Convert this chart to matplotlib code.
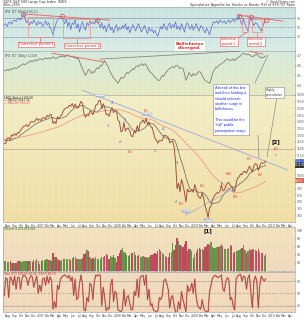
import numpy as np
import pandas as pd
import matplotlib
matplotlib.use("Agg")
import matplotlib.pyplot as plt
from matplotlib.colors import LinearSegmentedColormap
from matplotlib.patches import Rectangle
from matplotlib.lines import Line2D

OUTPUT_PATH = "out.png"
W, H = 304, 320

# weekly closes used only to warm up the moving averages (Sep 2005 - Jul 2006)
warmup_close = [1237, 1215, 1228, 1196, 1186, 1179, 1199, 1220, 1234, 1248, 1268, 1265, 1259,
                1267, 1268, 1248, 1285, 1287, 1261, 1283, 1264, 1266, 1287, 1289, 1287, 1281,
                1307, 1302, 1295, 1295, 1289, 1311, 1310, 1325, 1291, 1267, 1280, 1288, 1252,
                1251, 1245, 1270, 1265]

# weekly closes shown on the chart (14 Jul 2006 - 4 Dec 2009)
spx_close = [
    1236, 1240, 1278, 1279, 1266, 1302, 1295, 1311, 1299, 1319, 1314, 1336, 1349, 1365, 1368,
    1377, 1364, 1380, 1401, 1400, 1396, 1409, 1427, 1410, 1418,
    1409, 1430, 1430, 1422, 1448, 1438, 1455, 1451, 1387, 1402, 1386, 1436, 1421, 1443, 1452,
    1484, 1494, 1505, 1505, 1523, 1515, 1536, 1507, 1533, 1503, 1503, 1530, 1553, 1534, 1458,
    1433, 1453, 1445, 1479, 1474, 1454, 1484, 1525, 1527, 1557, 1561, 1501, 1535, 1509, 1453,
    1458, 1440, 1481, 1504, 1468, 1484, 1478,
    1411, 1401, 1325, 1330, 1396, 1331, 1349, 1353, 1331, 1294, 1288, 1330, 1316, 1370, 1332,
    1390, 1398, 1414, 1389, 1426, 1376, 1400, 1361, 1360, 1318, 1278, 1262, 1239, 1261, 1257,
    1260, 1296, 1298, 1292, 1283, 1242, 1252, 1255, 1213, 1099, 899, 940, 877, 968, 930,
    873, 800, 896, 876, 879, 887, 873,
    931, 890, 850, 832, 826, 869, 827, 770, 735, 683, 756, 768, 816, 842, 857, 869, 866, 877,
    929, 883, 887, 919, 940, 946, 921, 918, 896, 879, 940, 979, 987, 1010, 1005, 1026, 1029,
    1016, 1042, 1068, 1044, 1025, 1071, 1087, 1080, 1036, 1069, 1093, 1091, 1091, 1106]

rsi_values = [
    55, 58, 52, 60, 62, 57, 64, 66, 63, 68, 70, 66, 72, 79, 70, 60, 65, 55, 62, 58,
    66, 60, 54, 63, 58, 61, 52, 57, 64, 55, 60, 50, 45, 34, 48, 58, 66, 70, 72, 74,
    64, 58, 68, 52, 62, 45, 60, 56, 66, 48, 58, 40, 55, 62, 50, 44, 60, 54, 64, 58,
    62, 57, 64, 66, 58, 50, 60, 46, 54, 40, 52, 58, 44, 50, 38, 48, 56, 42, 50, 46,
    54, 48, 58, 44, 52, 38, 46, 56, 50, 42, 52, 58, 46, 40, 48, 54, 44, 36, 50, 42,
    46, 38, 44, 35, 31, 42, 52, 46, 58, 50, 44, 54, 60, 48, 56, 50, 62, 46, 52, 44,
    58, 50, 40, 54, 60, 52, 46, 56, 44, 50, 58, 48, 42, 54, 50, 44, 38, 48, 42, 34,
    46, 56, 62, 60, 64, 58, 66, 62, 60, 64, 58, 62, 66, 60, 64, 68, 62, 70, 66, 75,
    62, 56, 68, 58, 50, 42, 60, 72, 62, 54, 60, 58, 54, 48, 42, 52, 60, 66]

ratio_values = [
    0.55, 0.55, 0.56, 0.55, 0.57, 0.56, 0.57, 0.58, 0.57, 0.58, 0.59, 0.60, 0.61, 0.62, 0.61,
    0.62, 0.63, 0.64, 0.65, 0.64, 0.65, 0.66, 0.65, 0.66, 0.67, 0.67, 0.66, 0.67, 0.68, 0.67,
    0.68, 0.67, 0.68, 0.69, 0.68, 0.67, 0.68, 0.69, 0.70, 0.69, 0.70, 0.69, 0.70, 0.71, 0.70,
    0.69, 0.70, 0.68, 0.69, 0.67, 0.68, 0.64, 0.60, 0.57, 0.53, 0.50, 0.53, 0.56, 0.55, 0.52,
    0.54, 0.53, 0.56, 0.58, 0.57, 0.60, 0.60, 0.63, 0.65, 0.62, 0.60, 0.56, 0.53, 0.50, 0.47,
    0.46, 0.44, 0.42, 0.45, 0.48, 0.47, 0.48, 0.51, 0.53, 0.52, 0.54, 0.55, 0.57, 0.56, 0.59,
    0.60, 0.59, 0.61, 0.62, 0.60, 0.62, 0.61, 0.58, 0.55, 0.53, 0.52, 0.50, 0.48, 0.47, 0.45,
    0.45, 0.47, 0.50, 0.49, 0.52, 0.54, 0.56, 0.57, 0.58, 0.59, 0.58, 0.60, 0.60, 0.59, 0.57,
    0.58, 0.57, 0.52, 0.45, 0.48, 0.53, 0.51, 0.49, 0.52, 0.50, 0.51, 0.53, 0.54, 0.53, 0.50,
    0.47, 0.45, 0.44, 0.43, 0.42, 0.46, 0.52, 0.55, 0.58, 0.58, 0.60, 0.61, 0.62, 0.63, 0.64,
    0.66, 0.67, 0.66, 0.65, 0.66, 0.67, 0.65, 0.67, 0.68, 0.69, 0.70, 0.72, 0.73, 0.72, 0.71,
    0.72, 0.71, 0.70, 0.69, 0.70, 0.71, 0.72, 0.70, 0.69, 0.68, 0.68, 0.69, 0.70]

volume_bn = [
    2.6, 2.5, 2.3, 2.2, 2.4, 2.1, 1.9, 2.0, 2.1, 2.6, 2.5, 2.4, 2.3, 2.6, 2.4, 2.5, 2.4, 2.5,
    2.6, 2.2, 2.7, 2.6, 3.0, 2.4, 1.8,
    2.5, 2.7, 2.8, 2.7, 2.9, 2.8, 2.8, 2.6, 4.4, 3.4, 3.6, 2.9, 2.8, 2.6, 2.7, 3.0, 3.1, 3.0,
    2.9, 3.0, 2.8, 3.2, 3.4, 3.5, 3.1, 3.0, 2.9, 3.1, 3.2, 4.3, 4.6, 5.2, 5.0, 3.6, 3.0, 3.2,
    3.1, 3.4, 3.0, 2.9, 3.1, 3.6, 3.5, 3.8, 4.2, 3.9, 3.0, 3.8, 3.5, 3.9, 3.2, 2.2,
    3.8, 4.6, 5.2, 5.8, 4.8, 4.4, 3.9, 3.8, 3.9, 4.5, 4.6, 4.8, 3.9, 3.8, 3.9, 3.6, 3.5, 3.8,
    3.4, 3.5, 3.3, 3.4, 4.0, 4.1, 4.2, 4.5, 4.3, 5.0, 5.6, 5.0, 4.6, 4.3, 3.8, 3.6, 3.5, 4.5,
    4.8, 6.9, 5.3, 6.4, 8.2, 7.5, 6.6, 6.2, 6.0, 6.8, 7.4, 5.0, 5.6, 5.4, 5.1, 3.2,
    4.2, 4.8, 5.6, 5.8, 5.5, 5.4, 5.3, 5.9, 6.2, 6.8, 6.6, 7.2, 6.0, 5.8, 5.7, 6.1, 6.0, 6.3,
    6.8, 6.2, 5.6, 5.4, 5.6, 5.8, 6.4, 6.3, 4.4, 4.8, 5.0, 5.1, 5.3, 5.6, 5.8, 6.6, 5.2, 4.6,
    5.0, 5.6, 5.2, 5.4, 5.5, 5.2, 4.9, 5.6, 4.8, 4.6, 4.4, 3.8, 4.3]

stoch_values = [
    45, 88, 85, 40, 90, 86, 70, 92, 60, 88, 90, 60, 85, 95, 92, 88, 70, 85, 93, 90, 65, 80,
    92, 50, 70,
    55, 85, 88, 70, 92, 75, 90, 82, 12, 30, 15, 70, 60, 85, 90, 93, 95, 92, 88, 94, 80, 90,
    45, 85, 35, 40, 75, 95, 70, 10, 8, 40, 30, 75, 70, 35, 80, 95, 92, 96, 94, 20, 65, 40,
    8, 15, 12, 70, 85, 30, 55, 50,
    10, 8, 5, 12, 60, 20, 40, 45, 25, 10, 12, 55, 45, 85, 40, 90, 92, 94, 70, 95, 35, 60,
    20, 25, 10, 8, 5, 8, 40, 35, 45, 80, 85, 75, 60, 15, 40, 45, 20, 5, 3, 30, 12, 55, 35,
    20, 6, 70, 55, 60, 75, 50,
    85, 40, 20, 15, 12, 35, 15, 8, 6, 5, 55, 70, 88, 92, 94, 90, 88, 92, 95, 60, 55, 80, 88,
    85, 35, 40, 20, 10, 85, 92, 95, 96, 80, 92, 90, 60, 88, 95, 50, 15, 80, 92, 80, 15, 70,
    92, 85, 80, 86]

all_dates = pd.date_range("2005-09-16", periods=len(warmup_close) + len(spx_close), freq="W-FRI")
all_close = pd.Series(warmup_close + spx_close, index=all_dates, dtype=float)
ma50 = all_close.rolling(10).mean()
ma200 = all_close.rolling(40).mean()
dates = all_dates[len(warmup_close):]
close = all_close.loc[dates]

X0, X1 = pd.Timestamp("2006-07-08"), pd.Timestamp("2010-04-22")
T = pd.Timestamp


def fp(x, y):
    return x / W, 1 - y / H


def panel(top, bottom):
    return fig.add_axes([3 / W, 1 - bottom / H, 292 / W, (bottom - top) / H])


def shade(ax, top, bottom):
    cmap = LinearSegmentedColormap.from_list("bg", [top, bottom])
    ax.imshow(np.linspace(0, 1, 60).reshape(-1, 1), cmap=cmap, aspect="auto",
              extent=(0, 1, 0, 1), transform=ax.transAxes, zorder=0)


def style(ax, ylim, yticks, show_x=False):
    ax.set_xlim(X0, X1)
    ax.set_ylim(*ylim)
    ax.yaxis.tick_right()
    ax.set_yticks(yticks)
    ax.tick_params(axis="y", labelsize=2.2, length=1, width=0.3, pad=0.5, colors="#555555")
    ax.tick_params(axis="x", length=1, width=0.3)
    months = pd.date_range("2006-08-01", "2010-04-01", freq="MS")
    ax.set_xticks(months)
    if show_x:
        labels = [str(m.year) if m.month == 1 else m.strftime("%b") for m in months]
        ax.set_xticklabels(labels, fontsize=2.2, color="#444444")
        ax.tick_params(axis="x", pad=0.6)
    else:
        ax.set_xticklabels([])
    for s in ax.spines.values():
        s.set_color("#9a9a9a")
        s.set_linewidth(0.4)
    ax.grid(axis="x", color="#ffffff", lw=0.2, alpha=0.5)


fig = plt.figure(figsize=(W / 100, H / 100), dpi=100)

# ---- top: RSI of ratio
ax1 = panel(7, 51)
ax1.plot(dates, rsi_values, color="#5a6ad0", lw=0.5, zorder=3)
for lvl, ls in [(70, "-"), (50, "--"), (30, "-")]:
    ax1.axhline(lvl, color="#8c9cc4", lw=0.5, ls=ls, zorder=2)
shade(ax1, "#c9e3dd", "#d9ece6")
style(ax1, (-1, 94), [30, 50, 70])
for i in [13, 39, 63, 159, 167, 177]:
    ax1.plot(dates[i], rsi_values[i], "o", ms=3.2, mfc="none", mec="#e04848", mew=0.5, zorder=4)
ax1.plot([T("2006-10-13"), T("2007-11-27")], [79, 65.5], color="#e86060", lw=0.6, zorder=4)
ax1.plot([T("2009-07-26"), T("2010-02-24")], [76.5, 63.5], color="#e86060", lw=0.6, zorder=4)
for a, b, lo, hi in [("2006-11-03", "2007-03-01", 30, 72), ("2007-04-18", "2007-08-24", 26, 68),
                     ("2009-08-14", "2009-09-12", 41, 77), ("2009-10-01", "2009-11-17", 39, 68)]:
    ax1.add_patch(Rectangle((T(a), lo), T(b) - T(a), hi - lo, fill=False,
                            ec="#e89090", lw=0.5, zorder=4))
ax1.text(0.005, 0.97, "$SPX:$TLT  RSI(14) 66.12", transform=ax1.transAxes, fontsize=2,
         va="top", color="#444444")

box_red = dict(boxstyle="square,pad=0.25", fc="white", ec="#e05050", lw=0.4)
fig.text(*fp(36, 44.5), "Corrective period 1", fontsize=2.6, color="#d02020", ha="center",
         va="center", bbox=box_red, zorder=10)
fig.text(*fp(82, 45.5), "Corrective period 2", fontsize=2.6, color="#d02020", ha="center",
         va="center", bbox=box_red, zorder=10)
fig.text(*fp(229, 41.5), "Corrective\nperiod 1", fontsize=2.3, color="#d02020", ha="center",
         va="center", bbox=box_red, linespacing=1.1, zorder=10)
fig.text(*fp(256, 41.5), "Corrective\nperiod 2", fontsize=2.3, color="#d02020", ha="center",
         va="center", bbox=box_red, linespacing=1.1, zorder=10)
fig.text(*fp(190, 46), "Bullishness\ndiverged.", fontsize=3.2, color="#e02020", ha="center",
         va="center", weight="bold", linespacing=1.1,
         bbox=dict(boxstyle="square,pad=0.15", fc="white", ec="none"), zorder=10)
for (xa, ya), (xb, yb) in [((40, 37), (40, 42)), ((77, 39), (77, 43)),
                           ((247, 32), (238, 38)), ((257, 33), (257, 38))]:
    fig.add_artist(Line2D([xa / W, xb / W], [1 - ya / H, 1 - yb / H], color="#e05050", lw=0.4))

# ---- ratio panel
ax2 = panel(51, 95)
ax2.plot(dates, ratio_values, color="#6e6e5e", lw=0.5, zorder=3)
shade(ax2, "#d6eadc", "#e6e9c2")
style(ax2, (0.30, 0.75), [0.4, 0.5, 0.6, 0.7])
ax2.plot([T("2007-02-25"), T("2007-11-03")], [0.728, 0.637], color="#e86060", lw=0.6, zorder=4)
ax2.plot([T("2009-08-28"), T("2009-11-22")], [0.759, 0.718], color="#e86060", lw=0.6, zorder=4)
ax2.plot([T("2007-10-11"), T("2009-08-05")], [0.667, 0.749], color="#777777", lw=0.5, zorder=4)
ax2.text(0.005, 0.98, "$SPX:$TLT (Daily) 1.1186", transform=ax2.transAxes, fontsize=2,
         va="top", color="#444444")

# ---- main price panel
ax3 = panel(95, 222)
ax3.plot(dates, close, color="#9a4a3a", lw=0.65, zorder=4)
ax3.plot(dates, ma50.loc[dates], color="#555555", lw=0.45, zorder=3)
ax3.plot(dates, ma200.loc[dates], color="#ee9a84", lw=0.6, zorder=3)
ax3.axhline(1194, color="#c8b098", lw=0.6, zorder=2)
ax3.plot([T("2007-07-20"), T("2010-03-19")], [1635, 1039], color="#a0a8e0", lw=0.6,
         zorder=3, clip_on=False)
ax3.plot([T("2008-11-21"), T("2009-07-10")], [700, 905], color="#a0a8e0", lw=0.5, zorder=3)
shade(ax3, "#f3eec6", "#f0dea4")

tags = [(close.iloc[-1], "#3050c0"), (ma50.iloc[-1], "#333333"), (ma200.iloc[-1], "#e06050")]
price_ticks = [t for t in range(700, 1601, 50) if min(abs(t - p) for p, _ in tags) > 30]
style(ax3, (650, 1600), price_ticks, show_x=True)

wave_red = [("(1)", "2008-03-01", 1174), ("(2)", "2008-05-16", 1480), ("(3)", "2008-10-29", 785),
            ("(4)", "2009-02-06", 919), ("(W)", "2009-06-14", 1009), ("(X)", "2009-07-12", 837),
            ("(Y)", "2009-09-16", 1121), ("(X)", "2009-11-07", 1002), ("(2)", "2010-01-22", 1196)]
for s, d, p in wave_red:
    ax3.text(T(d), p, s, fontsize=2.6, color="#e03030", ha="center", va="center", zorder=6)
wave_blue = [("4", "2007-12-06", 1540), ("1", "2007-11-17", 1368), ("5", "2008-02-06", 1413),
             ("2", "2008-01-13", 1248), ("1", "2008-06-28", 1181), ("4", "2008-08-05", 1346),
             ("3", "2008-10-10", 1091), ("2", "2008-10-05", 800), ("5", "2008-11-20", 720),
             ("a", "2009-05-10", 940), ("b", "2009-07-01", 880), ("c", "2010-01-22", 1151)]
for s, d, p in wave_blue:
    ax3.text(T(d), p, s, fontsize=2.4, color="#3a50c0", ha="center", va="center", zorder=6)
ax3.text(T("2010-01-22"), 1250, "[2]", fontsize=4, color="black", weight="bold",
         ha="center", va="center", zorder=6)
for s, d, p in [("1576.09", "2007-10-11", 1592), ("1440.24", "2008-05-19", 1455),
                ("666.79", "2009-03-06", 668), ("741.02", "2008-11-21", 730)]:
    ax3.text(T(d), p, s, fontsize=1.6, color="#3a50c0", ha="center", va="center", zorder=6,
             bbox=dict(boxstyle="square,pad=0.2", fc="white", ec="#8090d0", lw=0.3))

ax3.text(0.005, 0.995, "$SPX (Daily) 1105.98", transform=ax3.transAxes, fontsize=2,
         va="top", color="#333333")
ax3.text(0.005, 0.975, "— MA(50) 1067.28", transform=ax3.transAxes, fontsize=2,
         va="top", color="#333333")
ax3.text(0.005, 0.955, "— MA(200) 962.20", transform=ax3.transAxes, fontsize=2,
         va="top", color="#e05050")
for p, fc in tags:
    ax3.annotate(f"{p:.2f}", xy=(1.0, p), xycoords=("axes fraction", "data"), fontsize=1.8,
                 color="white", va="center", ha="left", annotation_clip=False,
                 bbox=dict(boxstyle="square,pad=0.15", fc=fc, ec="none"))

note = ("A break of this line\nand then holding it,\nshould unleash\nanother surge in\n"
        "bullishness.\n\nThis would be the\n\"full\" public\nparticipation stage.")
fig.text(*fp(215, 86), note, fontsize=2.7, color="#2030e0", ha="left", va="top",
         linespacing=1.45, family="Liberation Sans",
         bbox=dict(boxstyle="square,pad=0.6", fc="white", ec="#888888", lw=0.4), zorder=10)
fig.text(*fp(266, 88), "Highly\nspeculative", fontsize=2.2, color="#333333", ha="left",
         va="top", linespacing=1.2,
         bbox=dict(boxstyle="square,pad=0.4", fc="white", ec="#888888", lw=0.4), zorder=10)
for (xa, ya), (xb, yb) in [((258, 135), (259, 158)), ((277, 97), (267, 157)),
                           ((255, 83), (268, 55))]:
    fig.add_artist(Line2D([xa / W, xb / W], [1 - ya / H, 1 - yb / H], color="#777777", lw=0.4))

# ---- volume
ax4 = panel(227, 271)
up = np.r_[True, np.diff(close.values) >= 0]
colors = np.where(up, "#4e8a34", "#b8304c")
ax4.bar(dates, volume_bn, width=6, color=colors, alpha=0.85, zorder=3)
shade(ax4, "#f3e2bc", "#f0d8bc")
style(ax4, (0, 11), [2, 4, 6, 8, 10])
ax4.set_yticklabels(["2B", "4B", "6B", "8B", "10B"])
ax4.text(0.005, 0.99, "Volume 4,426,829,824", transform=ax4.transAxes, fontsize=2,
         va="top", color="#3a7a2a")
ax4.text(T("2009-03-06"), 10.2, "[1]", fontsize=4, color="black", weight="bold",
         ha="center", va="center", zorder=6)

# ---- stochastic
ax5 = panel(272, 312)
ax5.plot(dates, stoch_values, color="#d08878", lw=1.0, zorder=3)
ax5.plot(dates, stoch_values, color="#a02828", lw=0.35, zorder=4)
for lvl, ls in [(80, "-"), (50, "--"), (20, "-")]:
    ax5.axhline(lvl, color="#b0a898", lw=0.5, ls=ls, zorder=2)
shade(ax5, "#f2dcc0", "#f0d8bc")
style(ax5, (5, 102), [20, 50, 80], show_x=True)
ax5.text(0.005, 0.99, "Slow STO %K(14) 86.04, %D(3) 84.10", transform=ax5.transAxes,
         fontsize=2, va="top", color="#c03030")

# header
fig.text(*fp(3, 2.5), "$SPX S&P 500 Large Cap Index  INDX", fontsize=2.4, va="center",
         color="#333333")
fig.text(*fp(3, 5.5), "4-Dec-2009", fontsize=2.2, va="center", color="#333333")
fig.text(*fp(295, 2), "© StockCharts.com", fontsize=2.2, va="center", ha="right",
         color="#333333")
fig.text(*fp(295, 4.8), "Speculative Appetite for Stocks vs Bonds: RSI of SPX:TLT Ratio",
         fontsize=2.4, va="center", ha="right", color="#333333")

fig.savefig(OUTPUT_PATH, dpi=100)
print(f"saved {OUTPUT_PATH}")
